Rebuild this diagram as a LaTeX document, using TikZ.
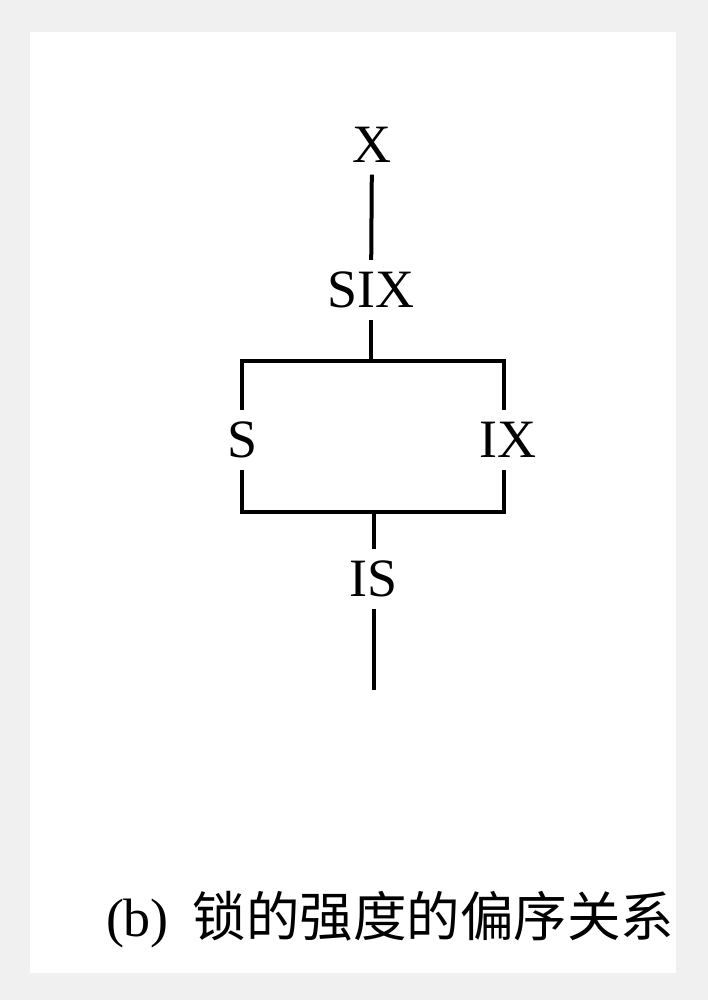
\documentclass[tikz,border=0pt]{standalone}
\usepackage{fontspec}
\setmainfont{Liberation Serif}
\newfontfamily\cjk{Noto Sans CJK SC}
\definecolor{pagegray}{HTML}{F0F0F0}
\begin{document}
\begin{tikzpicture}[x=1pt,y=-1pt,line width=4pt,
  lock/.style={inner sep=10pt, font=\fontsize{54}{60}\selectfont}]
\useasboundingbox (0,0) rectangle (708,1000);
\fill[pagegray] (0,0) rectangle (708,1000);
\fill[white] (30,32) rectangle (676,973);
\node[lock] (X) at (372,145){X};
\node[lock] (SIX) at (371,290){SIX};
\node[lock] (S) at (243,440){S};
\node[lock] (IX) at (508,440){IX};
\node[lock] (IS) at (374,579){IS};
\coordinate (topL) at (242,361);
\coordinate (topR) at (504,361);
\coordinate (botL) at (242,512);
\coordinate (botR) at (504,512);
\coordinate (tail) at (374,690);
\draw[](X) -- (SIX);
\draw[](SIX) |- (topL) -- (topL |- S.north);
\draw[](SIX) |- (topR) -- (topR |- IX.north);
\draw[](topL |- S.south) -- (botL) -- (botR) -- (botR |- IX.south);
\draw[](IS |- botL) -- (IS);
\draw[](IS) -- (tail);
\node[anchor=base west, inner sep=0pt, font=\fontsize{54}{60}\selectfont] (caption) at (104,936)
  {(b)\hspace{24pt}{\cjk\fontsize{53.5}{60}\selectfont 锁的强度的偏序关系}};
\end{tikzpicture}
\end{document}
